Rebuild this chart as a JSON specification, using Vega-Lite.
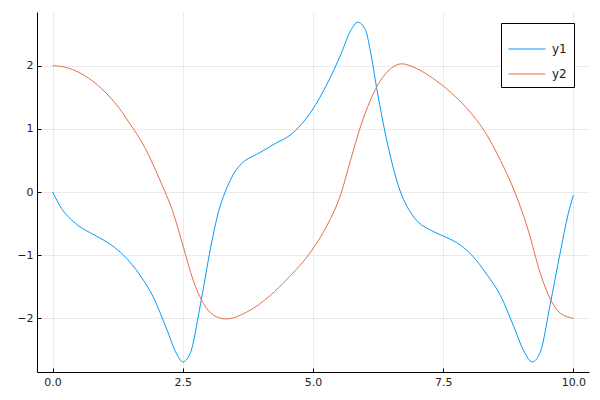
{
  "$schema": "https://vega.github.io/schema/vega-lite/v6.json",
  "width": 552,
  "height": 360,
  "autosize": {"type": "none"},
  "padding": {"left": 37, "top": 12, "right": 11, "bottom": 28},
  "background": "white",
  "config": {
    "view": {"stroke": null},
    "font": "DejaVu Sans",
    "axis": {
      "domainColor": "black",
      "domainWidth": 1,
      "tickColor": "black",
      "tickSize": -4,
      "labelPadding": 8,
      "labelFontSize": 11,
      "labelColor": "#222",
      "gridColor": "black",
      "gridOpacity": 0.08,
      "gridWidth": 1,
      "title": null,
      "labelFont": "DejaVu Sans"
    }
  },
  "data": {
    "values": [
      {"x": 0, "y": 0, "s": "y1"},
      {"x": 0.08, "y": -0.13, "s": "y1"},
      {"x": 0.17, "y": -0.26, "s": "y1"},
      {"x": 0.3, "y": -0.39, "s": "y1"},
      {"x": 0.49, "y": -0.53, "s": "y1"},
      {"x": 0.81, "y": -0.685, "s": "y1"},
      {"x": 1.13, "y": -0.84, "s": "y1"},
      {"x": 1.36, "y": -1.0, "s": "y1"},
      {"x": 1.68, "y": -1.32, "s": "y1"},
      {"x": 1.93, "y": -1.66, "s": "y1"},
      {"x": 2.19, "y": -2.17, "s": "y1"},
      {"x": 2.38, "y": -2.56, "s": "y1"},
      {"x": 2.5, "y": -2.69, "s": "y1"},
      {"x": 2.64, "y": -2.56, "s": "y1"},
      {"x": 2.83, "y": -1.82, "s": "y1"},
      {"x": 3.03, "y": -0.9, "s": "y1"},
      {"x": 3.18, "y": -0.33, "s": "y1"},
      {"x": 3.28, "y": -0.07, "s": "y1"},
      {"x": 3.38, "y": 0.13, "s": "y1"},
      {"x": 3.5, "y": 0.32, "s": "y1"},
      {"x": 3.63, "y": 0.45, "s": "y1"},
      {"x": 3.95, "y": 0.61, "s": "y1"},
      {"x": 4.28, "y": 0.77, "s": "y1"},
      {"x": 4.56, "y": 0.9, "s": "y1"},
      {"x": 4.98, "y": 1.29, "s": "y1"},
      {"x": 5.27, "y": 1.71, "s": "y1"},
      {"x": 5.54, "y": 2.19, "s": "y1"},
      {"x": 5.72, "y": 2.55, "s": "y1"},
      {"x": 5.86, "y": 2.69, "s": "y1"},
      {"x": 6.01, "y": 2.56, "s": "y1"},
      {"x": 6.1, "y": 2.24, "s": "y1"},
      {"x": 6.23, "y": 1.61, "s": "y1"},
      {"x": 6.39, "y": 0.92, "s": "y1"},
      {"x": 6.52, "y": 0.45, "s": "y1"},
      {"x": 6.68, "y": 0, "s": "y1"},
      {"x": 6.8, "y": -0.22, "s": "y1"},
      {"x": 6.94, "y": -0.4, "s": "y1"},
      {"x": 7.32, "y": -0.63, "s": "y1"},
      {"x": 7.51, "y": -0.7, "s": "y1"},
      {"x": 7.83, "y": -0.84, "s": "y1"},
      {"x": 8.05, "y": -1.0, "s": "y1"},
      {"x": 8.35, "y": -1.32, "s": "y1"},
      {"x": 8.6, "y": -1.64, "s": "y1"},
      {"x": 8.85, "y": -2.12, "s": "y1"},
      {"x": 9.05, "y": -2.52, "s": "y1"},
      {"x": 9.21, "y": -2.69, "s": "y1"},
      {"x": 9.37, "y": -2.52, "s": "y1"},
      {"x": 9.55, "y": -1.8, "s": "y1"},
      {"x": 9.75, "y": -0.95, "s": "y1"},
      {"x": 9.9, "y": -0.35, "s": "y1"},
      {"x": 10, "y": -0.05, "s": "y1"},
      {"x": 0, "y": 2.0, "s": "y2"},
      {"x": 0.27, "y": 1.97, "s": "y2"},
      {"x": 0.49, "y": 1.9, "s": "y2"},
      {"x": 1.01, "y": 1.58, "s": "y2"},
      {"x": 1.23, "y": 1.38, "s": "y2"},
      {"x": 1.46, "y": 1.11, "s": "y2"},
      {"x": 1.78, "y": 0.69, "s": "y2"},
      {"x": 2.06, "y": 0.19, "s": "y2"},
      {"x": 2.32, "y": -0.34, "s": "y2"},
      {"x": 2.51, "y": -0.87, "s": "y2"},
      {"x": 2.7, "y": -1.4, "s": "y2"},
      {"x": 2.9, "y": -1.77, "s": "y2"},
      {"x": 3.09, "y": -1.95, "s": "y2"},
      {"x": 3.33, "y": -2.01, "s": "y2"},
      {"x": 3.73, "y": -1.9, "s": "y2"},
      {"x": 4.19, "y": -1.63, "s": "y2"},
      {"x": 4.49, "y": -1.39, "s": "y2"},
      {"x": 4.98, "y": -0.92, "s": "y2"},
      {"x": 5.27, "y": -0.53, "s": "y2"},
      {"x": 5.54, "y": -0.02, "s": "y2"},
      {"x": 5.72, "y": 0.5, "s": "y2"},
      {"x": 5.91, "y": 1.03, "s": "y2"},
      {"x": 6.1, "y": 1.45, "s": "y2"},
      {"x": 6.3, "y": 1.77, "s": "y2"},
      {"x": 6.49, "y": 1.95, "s": "y2"},
      {"x": 6.7, "y": 2.03, "s": "y2"},
      {"x": 7.0, "y": 1.95, "s": "y2"},
      {"x": 7.32, "y": 1.79, "s": "y2"},
      {"x": 7.64, "y": 1.58, "s": "y2"},
      {"x": 7.96, "y": 1.32, "s": "y2"},
      {"x": 8.28, "y": 0.98, "s": "y2"},
      {"x": 8.6, "y": 0.5, "s": "y2"},
      {"x": 8.86, "y": 0.03, "s": "y2"},
      {"x": 9.12, "y": -0.57, "s": "y2"},
      {"x": 9.37, "y": -1.3, "s": "y2"},
      {"x": 9.56, "y": -1.7, "s": "y2"},
      {"x": 9.75, "y": -1.92, "s": "y2"},
      {"x": 10, "y": -2.0, "s": "y2"}
    ]
  },
  "mark": {"type": "line", "interpolate": "monotone", "strokeWidth": 1},
  "encoding": {
    "x": {
      "field": "x", "type": "quantitative",
      "scale": {"domain": [-0.3, 10.3], "nice": false, "zero": false},
      "axis": {"values": [0, 2.5, 5, 7.5, 10], "format": ".1f", "labelFlush": false}
    },
    "y": {
      "field": "y", "type": "quantitative",
      "scale": {"domain": [-2.85, 2.85], "nice": false, "zero": false},
      "axis": {"values": [-2, -1, 0, 1, 2], "format": "d"}
    },
    "color": {
      "field": "s", "type": "nominal",
      "scale": {"domain": ["y1", "y2"], "range": ["#009AFA", "#E36F47"]},
      "legend": {
        "title": null,
        "orient": "none",
        "legendX": 464,
        "legendY": 11,
        "symbolType": "stroke",
        "symbolSize": 1369,
        "symbolStrokeWidth": 1,
        "labelFontSize": 12,
        "labelFont": "DejaVu Sans",
        "labelColor": "#222",
        "strokeColor": "black",
        "fillColor": "white",
        "padding": 7,
        "rowPadding": 0,
        "labelOffset": 6
      }
    }
  }
}
